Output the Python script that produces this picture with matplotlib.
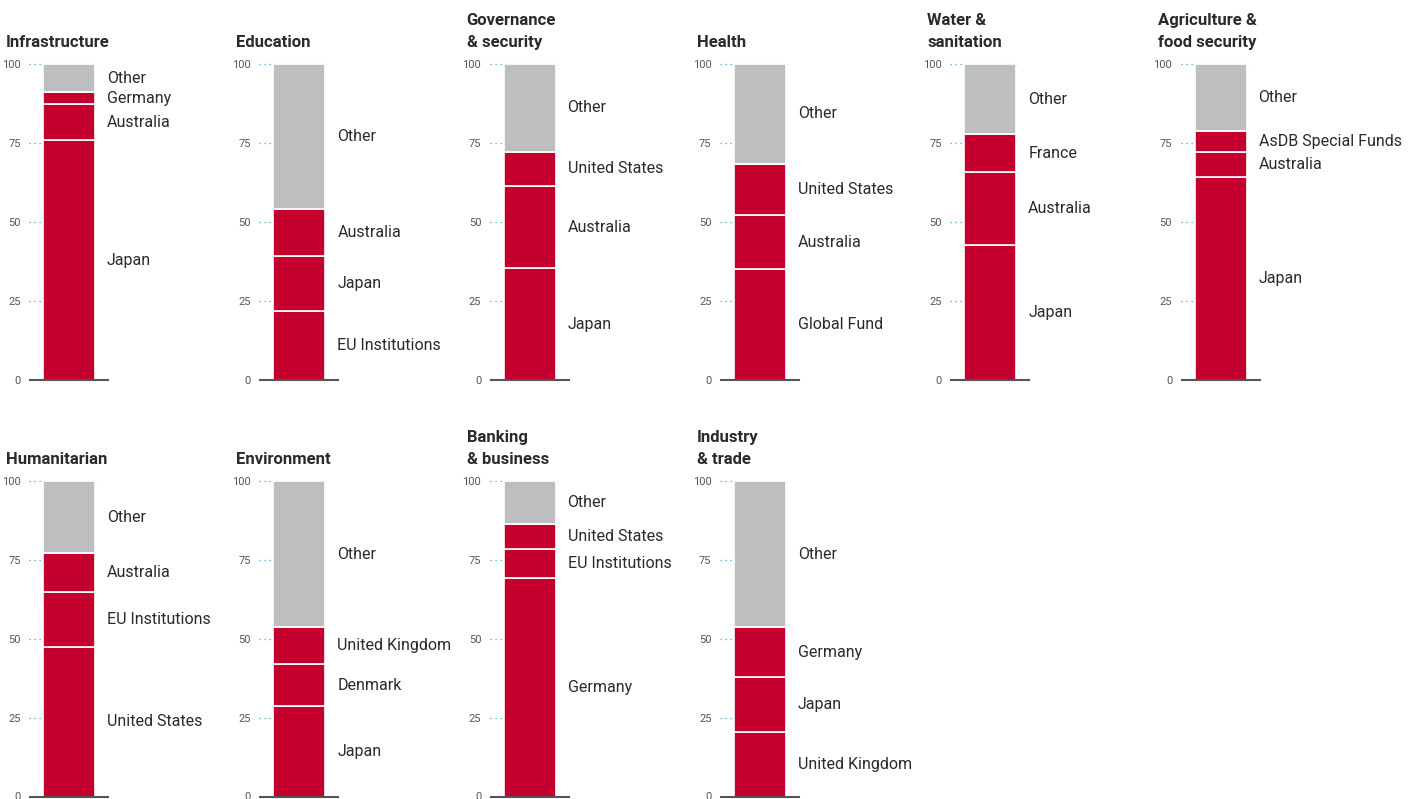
import matplotlib
matplotlib.use("Agg")
import matplotlib.pyplot as plt

plt.rcParams['font.family'] = ['Roboto', 'DejaVu Sans']

sectors = ["Infrastructure", "Education", "Governance\n& security", "Health",
           "Water &\nsanitation", "Agriculture &\nfood security",
           "Humanitarian", "Environment", "Banking\n& business", "Industry\n& trade"]

infrastructure_donors = ["Japan", "Australia", "Germany", "Other"]
infrastructure_shares = [75.8, 11.5, 3.7, 9.0]
education_donors = ["EU Institutions", "Japan", "Australia", "Other"]
education_shares = [21.8, 17.4, 14.8, 46.0]
governance_donors = ["Japan", "Australia", "United States", "Other"]
governance_shares = [35.4, 25.9, 11.0, 27.7]
health_donors = ["Global Fund", "Australia", "United States", "Other"]
health_shares = [35.0, 17.1, 16.4, 31.5]
water_donors = ["Japan", "Australia", "France", "Other"]
water_shares = [42.6, 23.1, 12.0, 22.3]
agriculture_donors = ["Japan", "Australia", "AsDB Special Funds", "Other"]
agriculture_shares = [64.2, 8.1, 6.4, 21.3]
humanitarian_donors = ["United States", "EU Institutions", "Australia", "Other"]
humanitarian_shares = [47.3, 17.5, 12.3, 22.9]
environment_donors = ["Japan", "Denmark", "United Kingdom", "Other"]
environment_shares = [28.6, 13.3, 11.8, 46.3]
banking_donors = ["Germany", "EU Institutions", "United States", "Other"]
banking_shares = [69.2, 9.2, 8.0, 13.6]
industry_donors = ["United Kingdom", "Japan", "Germany", "Other"]
industry_shares = [20.3, 17.5, 15.9, 46.3]

panel_donors = [infrastructure_donors, education_donors, governance_donors, health_donors,
                water_donors, agriculture_donors, humanitarian_donors, environment_donors,
                banking_donors, industry_donors]
panel_shares = [infrastructure_shares, education_shares, governance_shares, health_shares,
                water_shares, agriculture_shares, humanitarian_shares, environment_shares,
                banking_shares, industry_shares]

yticks = [0, 25, 50, 75, 100]

W, H = 1409, 799
fig = plt.figure(figsize=(W / 100, H / 100), dpi=100)

RED = '#C4002F'
GREY = '#BDBEC0'
TEXT = '#2A2A2A'

panel_dx = 230.3
ax_w_px = 79
for i, (title, donors, shares) in enumerate(zip(sectors, panel_donors, panel_shares)):
    row, col = divmod(i, 6)
    x0 = 29 + col * panel_dx
    y_top = 64 + row * 417
    y_bot = 380 + row * 416.5
    ax = fig.add_axes([x0 / W, 1 - y_bot / H, ax_w_px / W, (y_bot - y_top) / H])
    ax.set_xlim(0, ax_w_px)
    ax.set_ylim(0, 100)
    # dotted guide lines between tick labels and the bar
    ax.hlines(yticks[1:], 0, 13, colors='#3AA6D8', linestyles=(0, (1, 3)),
              linewidth=0.9, clip_on=False, zorder=1)
    ax.hlines([100], 13, 67, colors='#D0D0D0', linestyles=(0, (1, 3)),
              linewidth=0.8, clip_on=False, zorder=1)
    bottom = 0
    for d, v in zip(donors, shares):
        color = GREY if d == "Other" else RED
        ax.bar(40, v, width=52, bottom=bottom, color=color, edgecolor='white',
               linewidth=1.2, zorder=2)
        ax.text(78, bottom + v / 2, d, ha='left', va='center', fontsize=11.5,
                color=TEXT, clip_on=False)
        bottom += v
    for s in ['top', 'right', 'left']:
        ax.spines[s].set_visible(False)
    ax.spines['bottom'].set_color('#555555')
    ax.spines['bottom'].set_linewidth(1.5)
    ax.spines['bottom'].set_bounds(1, ax_w_px)
    ax.spines['bottom'].set_zorder(3)
    ax.set_xticks([])
    ax.set_yticks(yticks)
    ax.set_yticklabels([str(t) for t in yticks], fontsize=8, color='#555555')
    ax.tick_params(axis='y', length=0, pad=6)

    lines = title.split("\n")
    base = 47 + row * 417
    tx = 6 + col * panel_dx
    for k, line in enumerate(reversed(lines)):
        fig.text(tx / W, 1 - (base - 22 * k) / H, line, ha='left', va='baseline',
                 fontsize=12, fontweight='bold', color=TEXT)

fig.savefig("out.png", dpi=100)
